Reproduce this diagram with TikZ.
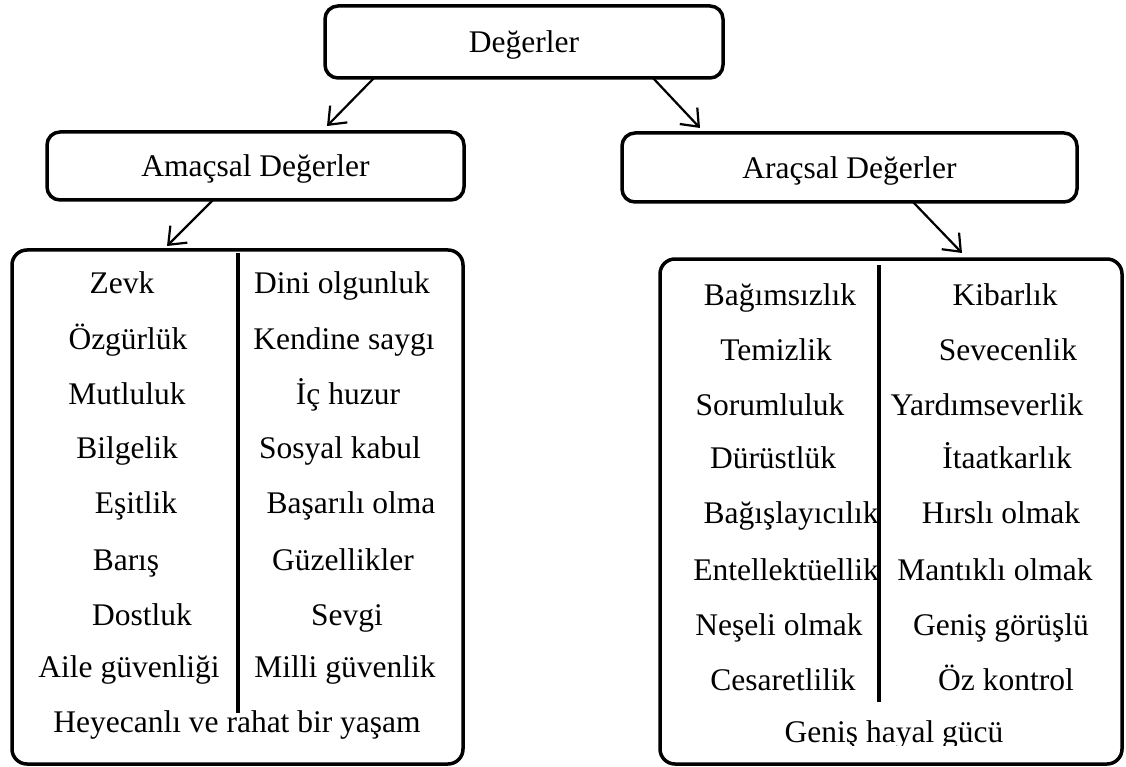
\documentclass[tikz,border=0pt]{standalone}
\usepackage{fontspec}
\setmainfont{Liberation Serif}
\usetikzlibrary{arrows.meta,calc}

\begin{document}
\begin{tikzpicture}[x=1pt,y=-1pt,
  box/.style={draw=black,line width=3.5pt,rounded corners=13pt,inner sep=0pt,outer sep=0pt,
              text height=22pt,text depth=0pt},
  bigbox/.style={draw=black,line width=3.5pt,rounded corners=15pt,inner sep=0pt,outer sep=0pt},
  item/.style={inner sep=0pt,outer sep=0pt,anchor=base},
  arr/.style={line width=2.2pt,-{Straight Barb[length=15pt,width=24pt,line width=2.2pt]}},
  divider/.style={line width=3.5pt}]
\fontsize{31.5}{36}\selectfont
\useasboundingbox (0,0) rectangle (1126,767);

% header boxes
\node[box,minimum width=398pt,minimum height=72pt] (top) at (524,42) {Değerler};
\node[box,minimum width=417pt,minimum height=68pt] (ama) at (255.5,166) {Amaçsal Değerler};
\node[box,minimum width=455pt,minimum height=69pt] (ara) at (849.5,167.5) {Araçsal Değerler};

% list boxes
\node[bigbox,minimum width=451pt,minimum height=514pt] (lbox) at (237.5,507) {};
\node[bigbox,minimum width=462pt,minimum height=505pt] (rbox) at (891,511.5) {};

% arrows
\draw[arr] ($(top.south west)+(49,0)$) -- ($(ama.north west)+(280,-6)$);
\draw[arr] ($(top.south west)+(328,0)$) -- ($(ara.north west)+(78,-5)$);
\draw[arr] ($(ama.south west)+(166,0)$) -- ($(lbox.north west)+(155,-4)$);
\draw[arr] ($(ara.south west)+(291,0)$) -- ($(rbox.north west)+(302,-6)$);

% column dividers
\coordinate (ldivtop) at ($(lbox.north west)+(226,3)$);
\coordinate (ldivbot) at ($(lbox.north west)+(226,463)$);
\draw[divider] (ldivtop) -- (ldivbot);
\coordinate (rdivtop) at ($(rbox.north west)+(219,6)$);
\coordinate (rdivbot) at ($(rbox.north west)+(219,443)$);
\draw[divider] (rdivtop) -- (rdivbot);

% Amaçsal değerler
\node[item] (a1) at (122,293) {Zevk};
\node[item] (a2) at (128,349) {Özgürlük};
\node[item] (a3) at (127,404) {Mutluluk};
\node[item] (a4) at (127,458) {Bilgelik};
\node[item] (a5) at (136,513) {Eşitlik};
\node[item] (a6) at (126,570) {Barış};
\node[item] (a7) at (142,625) {Dostluk};
\node[item] (a8) at (129,677) {Aile güvenliği};
\node[item] (b1) at (342,293) {Dini olgunluk};
\node[item] (b2) at (344,349) {Kendine saygı};
\node[item] (b3) at (348,404) {İç huzur};
\node[item] (b4) at (340,458) {Sosyal kabul};
\node[item] (b5) at (351,513) {Başarılı olma};
\node[item] (b6) at (343,570) {Güzellikler};
\node[item] (b7) at (347,625) {Sevgi};
\node[item] (b8) at (345,677) {Milli güvenlik};
\node[item] (a9) at (237,732) {Heyecanlı ve rahat bir yaşam};

% Araçsal değerler
\node[item] (c1) at (780,305) {Bağımsızlık};
\node[item] (c2) at (776,360) {Temizlik};
\node[item] (c3) at (770,415) {Sorumluluk};
\node[item] (c4) at (773,468) {Dürüstlük};
\node[item] (c5) at (791,523) {Bağışlayıcılık};
\node[item] (c6) at (786,580) {Entellektüellik};
\node[item] (c7) at (779,635) {Neşeli olmak};
\node[item] (c8) at (783,690) {Cesaretlilik};
\node[item] (d1) at (1005,305) {Kibarlık};
\node[item] (d2) at (1008,360) {Sevecenlik};
\node[item] (d3) at (987,415) {Yardımseverlik};
\node[item] (d4) at (1007,468) {İtaatkarlık};
\node[item] (d5) at (1001,523) {Hırslı olmak};
\node[item] (d6) at (995,580) {Mantıklı olmak};
\node[item] (d7) at (1001,635) {Geniş görüşlü};
\node[item] (d8) at (1006,690) {Öz kontrol};
% last line is cut off just under its baseline
\begin{scope}
  \clip (662,700) rectangle (1120,745);
  \node[item] (c9) at (894,742) {Geniş hayal gücü};
\end{scope}
\end{tikzpicture}
\end{document}
